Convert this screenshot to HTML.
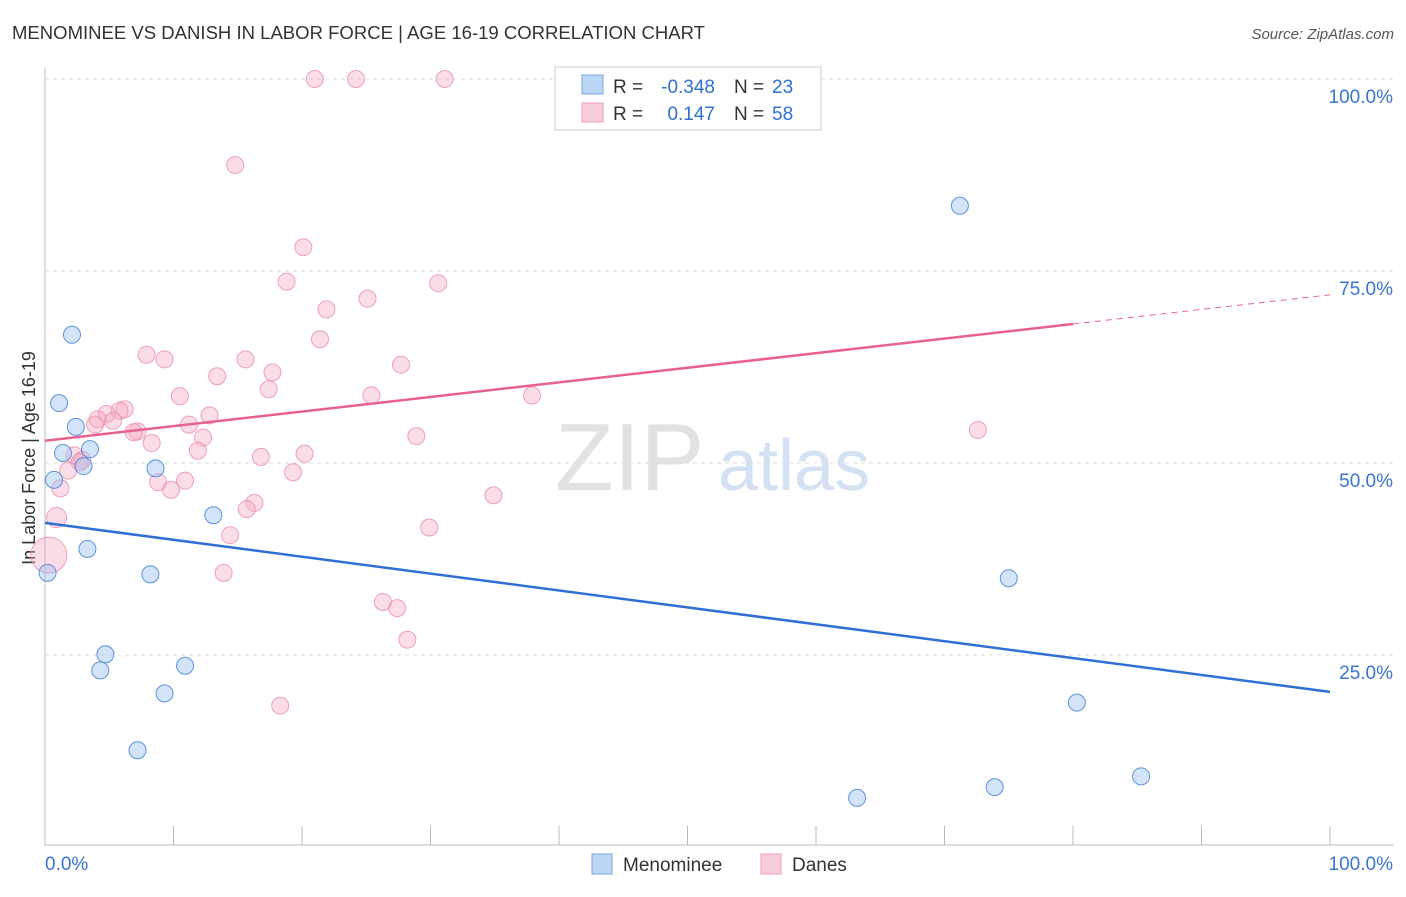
<!DOCTYPE html>
<html><head><meta charset="utf-8"><style>
body{margin:0;background:#fff;font-family:"Liberation Sans",sans-serif}
svg text{font-family:"Liberation Sans",sans-serif}
</style></head><body>
<svg id="c" width="1406" height="892" xmlns="http://www.w3.org/2000/svg">
<text x="12" y="39" font-size="18" fill="#333" textLength="693" lengthAdjust="spacingAndGlyphs">MENOMINEE VS DANISH IN LABOR FORCE | AGE 16-19 CORRELATION CHART</text>
<text x="1394" y="39" font-size="15" fill="#555" font-style="italic" text-anchor="end">Source: ZipAtlas.com</text>
<text x="35" y="458" font-size="18" fill="#333" text-anchor="middle" transform="rotate(-90 35 458)">In Labor Force | Age 16-19</text>
<text x="555" y="490" font-size="96" fill="#e2e2e2" font-family="Liberation Serif">ZIP</text>
<text x="718" y="490" font-size="72" fill="#d3e1f3">atlas</text>
<g id="grid"></g><g id="pts"></g><g id="lines"></g>
<g>
<rect x="555" y="67" width="266" height="63" fill="#fff" stroke="#ccc"/>
<rect x="582" y="75" width="21" height="19" fill="#bcd5f5" stroke="#7aa6e0"/>
<rect x="582" y="103" width="21" height="19" fill="#f9ccd9" stroke="#eea0b8"/>
<text x="613" y="93" font-size="19" fill="#333">R =</text>
<text x="715" y="93" font-size="19" fill="#2f6fd6" text-anchor="end">-0.348</text>
<text x="734" y="93" font-size="19" fill="#333">N =</text>
<text x="772" y="93" font-size="19" fill="#2f6fd6">23</text>
<text x="613" y="120" font-size="19" fill="#333">R =</text>
<text x="715" y="120" font-size="19" fill="#2f6fd6" text-anchor="end">0.147</text>
<text x="734" y="120" font-size="19" fill="#333">N =</text>
<text x="772" y="120" font-size="19" fill="#2f6fd6">58</text>
</g>
<g>
<rect x="592" y="854" width="20" height="20" fill="#bcd5f5" stroke="#7aa6e0"/>
<text x="623" y="871" font-size="19" fill="#333">Menominee</text>
<rect x="761" y="854" width="20" height="20" fill="#f9ccd9" stroke="#eea0b8"/>
<text x="792" y="871" font-size="19" fill="#333">Danes</text>
</g>
</svg>
<script>
const blueX=[2.1,1.1,2.4,1.4,3.5,3.0,0.7,8.6,13.1,3.3,0.2,8.2,4.7,4.3,10.9,9.3,7.2,71.2,75.0,80.3,63.2,73.9,85.3];
const blueY=[66.7,57.8,54.7,51.3,51.8,49.6,47.8,49.3,43.2,38.8,35.7,35.5,25.1,23.0,23.6,20.0,12.6,83.5,35.0,18.8,6.4,7.8,9.2];
const pinkX=[21.0,24.2,31.1,14.8,20.1,18.8,30.6,25.1,21.9,21.4,7.9,9.3,15.6,27.7,13.4,17.7,17.4,25.4,37.9,10.5,6.2,5.8,4.8,4.1,5.3,3.9,12.8,11.2,7.2,6.9,12.3,8.3,28.9,11.9,16.8,20.2,2.3,2.9,2.7,1.8,19.3,10.9,8.8,9.8,1.2,34.9,16.3,15.7,0.9,29.9,14.4,13.9,0.3,26.3,27.4,28.2,18.3,72.6];
const pinkY=[100,100,100,88.8,78.1,73.6,73.4,71.4,70.0,66.1,64.1,63.5,63.5,62.8,61.3,61.8,59.6,58.8,58.8,58.7,57.0,56.8,56.4,55.7,55.5,55.0,56.2,55.0,54.1,54.0,53.3,52.6,53.5,51.6,50.8,51.2,51.0,50.4,50.1,49.0,48.8,47.7,47.5,46.5,46.7,45.8,44.8,44.0,42.9,41.6,40.6,35.7,38.0,31.9,31.1,27.0,18.4,54.3];
const tickLabels=["100.0%","75.0%","50.0%","25.0%"];
const tickVals=[100,75,50,25];
const X0=45,X1=1330,Y0=847,Y1=79;
const sx=v=>X0+(X1-X0)*v/100, sy=v=>Y0-(Y0-Y1)*v/100;
const NS="http://www.w3.org/2000/svg";
function mk(t,a,p){const e=document.createElementNS(NS,t);for(const k in a)e.setAttribute(k,a[k]);p.appendChild(e);return e;}
const g=document.getElementById('grid');
tickVals.forEach((v,i)=>{
 const l=mk('line',{x1:X0,x2:1394,y1:sy(v),y2:sy(v),stroke:'#ddd','stroke-dasharray':'4,4'},g);
 
 
 const t=mk('text',{x:1393,y:sy(v)+24,'font-size':19,fill:'#3a74d4','text-anchor':'end'},g);t.textContent=tickLabels[i];
 
 
});
mk('line',{x1:X0,x2:X0,y1:68,y2:846,stroke:'#bbb'},g);
mk('line',{x1:X0,x2:1394,y1:845,y2:845,stroke:'#bbb'},g);
for(let i=0;i<=10;i++){mk('line',{x1:sx(i*10),x2:sx(i*10),y1:826,y2:845,stroke:'#bbb'},g);}
let t=mk('text',{x:45,y:870,'font-size':19,fill:'#3a74d4'},g);t.textContent='0.0%';


t=mk('text',{x:1393,y:870,'font-size':19,fill:'#3a74d4','text-anchor':'end'},g);t.textContent='100.0%';


const P=document.getElementById('pts');
pinkX.forEach((x,i)=>{const r=(i==52)?18:(i==48?10:8.5);
 const c=mk('circle',{cx:sx(x),cy:sy(pinkY[i]),r:r,fill:'rgba(246,170,195,0.4)',stroke:'rgba(235,140,170,0.8)','stroke-width':1},P);
 
 });
blueX.forEach((x,i)=>{
 const c=mk('circle',{cx:sx(x),cy:sy(blueY[i]),r:8.5,fill:'rgba(160,195,240,0.45)',stroke:'rgba(70,130,215,0.85)','stroke-width':1},P);
 
 });
const L=document.getElementById('lines');
let a=mk('line',{x1:sx(0),y1:sy(42.2),x2:sx(100),y2:sy(20.2),stroke:'#2f6fd6','stroke-width':2.5},L);


a=mk('line',{x1:sx(0),y1:sy(52.9),x2:sx(80),y2:sy(68.1),stroke:'#e8628e','stroke-width':2.5},L);


a=mk('line',{x1:sx(80),y1:sy(68.1),x2:sx(100),y2:sy(71.9),stroke:'#e8628e','stroke-width':1,'stroke-dasharray':'6,5'},L);


</script>
</body></html>
